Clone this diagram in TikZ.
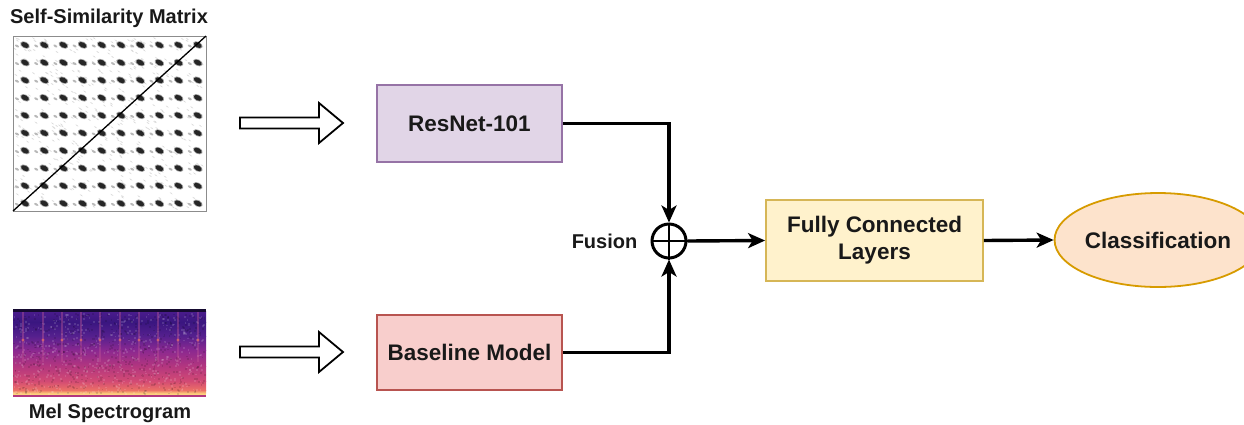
\documentclass[tikz,border=0pt]{standalone}
\usepackage{fontspec}
\setmainfont{Liberation Sans}
\usetikzlibrary{arrows.meta,shapes.geometric,calc}
\definecolor{rnfill}{HTML}{E1D5E7}\definecolor{rnline}{HTML}{9673A6}
\definecolor{blfill}{HTML}{F8CECC}\definecolor{blline}{HTML}{B85450}
\definecolor{fcfill}{HTML}{FFF2CC}\definecolor{fcline}{HTML}{D6B656}
\definecolor{clfill}{HTML}{FDE3CC}\definecolor{clline}{HTML}{D79B00}
\definecolor{spA}{HTML}{150A30}\definecolor{spB}{HTML}{4A1C8C}
\definecolor{spB2}{HTML}{3A1680}\definecolor{spC}{HTML}{55208E}
\definecolor{spC2}{HTML}{8A2890}\definecolor{spD}{HTML}{B3367F}
\definecolor{spE}{HTML}{D24A74}\definecolor{spF}{HTML}{EC7066}
\definecolor{spG}{HTML}{FCD27C}\definecolor{stripe}{HTML}{D0609A}
\begin{document}
\begin{tikzpicture}[x=1pt,y=-1pt,
  box/.style={draw, line width=1.8pt, minimum width=185pt, minimum height=77pt, inner sep=0pt,
    font=\fontsize{22.5}{27}\selectfont\bfseries, align=center, text=black!90},
  conn/.style={line width=3.4pt, -{Stealth[length=17pt,width=15pt,inset=4.5pt]}},
  hollow/.style={draw=black, line width=1.8pt, fill=white, line join=miter},
  lab/.style={font=\fontsize{20}{24}\selectfont\bfseries, text=black!90, inner sep=0pt}
]
\useasboundingbox (0,0) rectangle (1244,424);

% ---------- Self-similarity matrix picture ----------
\node[lab] (ssmlabel) at (109,18) {Self-Similarity Matrix};
\fill[white] (13,36) rectangle (206,211);
\pgfmathsetseed{11}
\foreach \i in {1,...,450}{
  \pgfmathsetmacro\rx{15+189*rnd}
  \pgfmathsetmacro\ry{38+171*rnd}
  \fill[black!14,rotate around={-35:(\rx,\ry)}] (\rx,\ry) ellipse (1.8 and 0.5);
}
\foreach \c in {0,...,9}{
  \foreach \r in {0,...,9}{
    \pgfmathsetmacro\bx{25+19.2*\c}
    \pgfmathsetmacro\by{45+17.6*\r}
    \fill[black!28,rotate around={-30:(\bx-8,\by+1)}] (\bx-8,\by+1) ellipse (2.2 and 1.1);
    \fill[black!35,rotate around={-28:(\bx,\by)}] (\bx,\by) ellipse (5.2 and 3.3);
    \fill[black!85,rotate around={-28:(\bx,\by)}] (\bx,\by) ellipse (4.2 and 2.5);
  }
}
\draw[black!45, line width=1pt] (13,36) rectangle (206,211);
\draw[black, line width=1.3pt] (13,211) -- (206,36);
\node[inner sep=0pt, minimum width=193pt, minimum height=175pt] (ssm) at (109.5,123.5) {};

% ---------- Mel spectrogram picture ----------
\shade[top color=spB, bottom color=spB2] (13,311) rectangle (206,322);
\shade[top color=spB2, bottom color=spC] (13,322) rectangle (206,336);
\shade[top color=spC, bottom color=spC2] (13,336) rectangle (206,350);
\shade[top color=spC2, bottom color=spD] (13,350) rectangle (206,366);
\shade[top color=spD, bottom color=spE] (13,366) rectangle (206,381);
\shade[top color=spE, bottom color=spF] (13,381) rectangle (206,390);
\shade[top color=spF, bottom color=spG] (13,390) rectangle (206,393.5);
\fill[spG] (13,393.5) rectangle (206,395);
\fill[spD] (13,395) rectangle (206,396.5);
\fill[spA] (13,309) rectangle (206,311.5);
\pgfmathsetseed{5}
\foreach \i in {1,...,1100}{
  \pgfmathsetmacro\rx{13+191*rnd}
  \pgfmathsetmacro\ry{313+80*rnd}
  \pgfmathsetmacro\w{rnd}
  \ifdim\w pt<0.5pt
    \fill[white, opacity=0.13] (\rx,\ry) rectangle ++(1.8,1.8);
  \else
    \fill[black, opacity=0.12] (\rx,\ry) rectangle ++(1.8,1.8);
  \fi
}
\foreach \sx in {23,43,62,81,100,120,139,158,178,198}{
  \draw[stripe, opacity=0.35, line width=1.5pt] (\sx,312) -- (\sx,338);
  \draw[stripe, opacity=0.3, line width=1.5pt] (\sx,338) -- (\sx,362);
  \fill[spF, opacity=0.7] (\sx,340) circle (1.6);
}
\node[inner sep=0pt, minimum width=193pt, minimum height=87pt] (mel) at (109.5,352.5) {};
\node[lab] (mellabel) at (110,413) {Mel Spectrogram};

% ---------- hollow arrows ----------
\coordinate (ha1) at (240,123);
\coordinate (ha2) at (240,352);
\draw[hollow] ($(ha1)+(0,-5.5)$) -- ++(79,0) -- ++(0,-14.5) -- ($(ha1)+(103,0)$) -- ($(ha1)+(79,20)$) -- ++(0,-14.5) -- ($(ha1)+(0,5.5)$) -- cycle;
\draw[hollow] ($(ha2)+(0,-5.5)$) -- ++(79,0) -- ++(0,-14.5) -- ($(ha2)+(103,0)$) -- ($(ha2)+(79,20)$) -- ++(0,-14.5) -- ($(ha2)+(0,5.5)$) -- cycle;

% ---------- model boxes ----------
\node[box, fill=rnfill, draw=rnline] (resnet) at (469.5,123.5) {ResNet-101};
\node[box, fill=blfill, draw=blline, minimum height=75pt] (baseline) at (469.5,352.5) {Baseline Model};
\node[box, fill=fcfill, draw=fcline, minimum width=217pt, minimum height=81pt] (fc) at (874.5,240.5) {Fully Connected\\Layers};
\node[ellipse, draw=clline, fill=clfill, line width=1.8pt, minimum width=168pt, minimum height=94pt, inner sep=0pt,
  font=\fontsize{22.5}{27}\selectfont\bfseries, text=black!90] (cls) at (1158,240) {Classification};

% ---------- fusion ----------
\node[circle, draw, line width=3pt, minimum size=34pt, inner sep=0pt] (fus) at (669,241) {};
\draw[line width=2.4pt] (fus.north) -- (fus.south) (fus.west) -- (fus.east);
\node[lab, anchor=east] (fuslabel) at ($(fus.west)+(-13,0)$) {Fusion};

% ---------- connectors ----------
\draw[conn] (resnet.east) -| (fus.north);
\draw[conn] (baseline.east) -| (fus.south);
\draw[conn] (fus.east) -- (fc.west);
\draw[conn] (fc.east) -- (cls.west);
\end{tikzpicture}
\end{document}
